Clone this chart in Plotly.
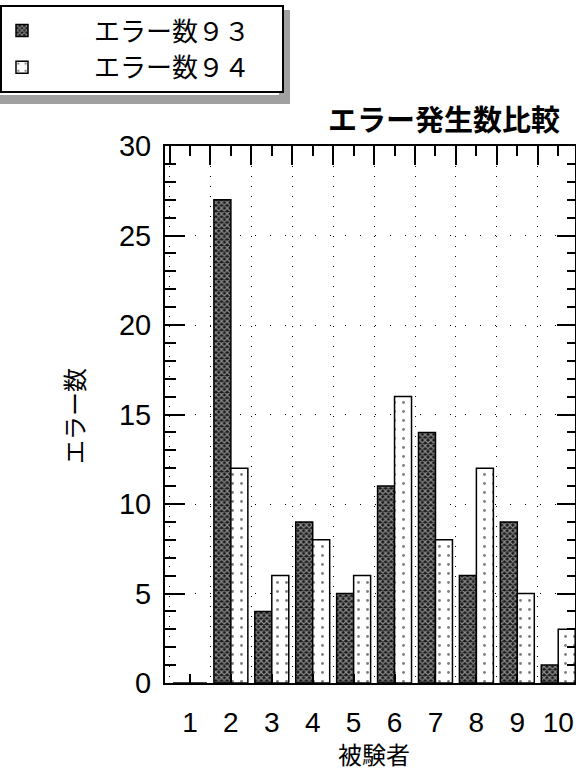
import plotly.graph_objects as go

subjects = [1, 2, 3, 4, 5, 6, 7, 8, 9, 10]
errors_93 = [0, 27, 4, 9, 5, 11, 14, 6, 9, 1]
errors_94 = [0, 12, 6, 8, 6, 16, 8, 12, 5, 3]
series_names = ["エラー数９３", "エラー数９４"]
title_text = "エラー発生数比較"
x_title = "被験者"
y_title = "エラー数"

W, H = 576, 775
L, R, T, B = 165, 1, 146, 92
pw = W - L - R
ph = H - T - B

def px(x):
    return (x - L) / pw

def py(y):
    return (H - B - y) / ph

CJK = "Noto Sans CJK JP"
SANS = "Liberation Sans, Arial, sans-serif"

fig = go.Figure()
fig.add_trace(go.Bar(
    x=subjects, y=errors_93, name="　　" + series_names[0] + "　",
    marker=dict(color="#1a1a1a", line=dict(color="black", width=1.5),
                pattern=dict(shape="x", fgcolor="white", bgcolor="#1a1a1a", size=4, solidity=0.5)),
))
fig.add_trace(go.Bar(
    x=subjects, y=errors_94, name="　　" + series_names[1] + "　",
    marker=dict(color="white", line=dict(color="black", width=1.5),
                pattern=dict(shape=".", fgcolor="black", bgcolor="white", size=9, solidity=0.08)),
))

# invisible trace for top/right axes
fig.add_trace(go.Scatter(x=[subjects[0]], y=[0], xaxis="x2", yaxis="y2",
                         mode="markers", marker=dict(opacity=0), showlegend=False, hoverinfo="skip"))

xr = [0.39, 10.41]
fig.update_layout(
    width=W, height=H,
    margin=dict(l=L, r=R, t=T, b=B, pad=0, autoexpand=False),
    paper_bgcolor="white", plot_bgcolor="white",
    barmode="group", bargap=0.17, bargroupgap=0,
    font=dict(family=SANS, color="black"),
    showlegend=True,
    legend=dict(
        xref="container", yref="container", x=0.0, y=1 - 5 / H,
        xanchor="left", yanchor="top",
        bgcolor="white", bordercolor="black", borderwidth=2,
        font=dict(family=CJK, size=26, color="black"),
        itemwidth=30,
    ),
    xaxis=dict(
        range=xr, tickmode="array", tickvals=subjects, ticktext=[str(s) for s in subjects],
        ticks="inside", ticklen=9, tickwidth=2, tickcolor="black",
        showline=True, linecolor="black", linewidth=2,
        tickfont=dict(family=SANS, size=28), ticklabelstandoff=13,
        showgrid=False, zeroline=False, automargin=False,
        minor=dict(tickmode="linear", tick0=0.5, dtick=1, ticks="", showgrid=True,
                   gridcolor="black", gridwidth=1, griddash="1px,9px"),
    ),
    xaxis2=dict(
        range=xr, overlaying="x", side="top",
        tickmode="array", tickvals=subjects, showticklabels=False,
        ticks="inside", ticklen=10, tickwidth=2, tickcolor="black",
        showline=True, linecolor="black", linewidth=2, showgrid=False, zeroline=False,
        automargin=False,
        minor=dict(tickmode="linear", tick0=0.5, dtick=1, ticks="inside", ticklen=19,
                   tickwidth=2, tickcolor="black", showgrid=False),
    ),
    yaxis=dict(
        range=[0, 30], tickmode="linear", tick0=0, dtick=5,
        ticks="inside", ticklen=20, tickwidth=2, tickcolor="black",
        showline=True, linecolor="black", linewidth=2,
        tickfont=dict(family=SANS, size=29), ticklabelstandoff=6,
        showgrid=True, gridcolor="black", gridwidth=1, griddash="1px,14px",
        zeroline=False, automargin=False,
        minor=dict(tickmode="linear", tick0=0, dtick=1, ticks="inside", ticklen=11,
                   tickwidth=2, tickcolor="black", showgrid=False),
    ),
    yaxis2=dict(
        range=[0, 30], overlaying="y", side="right", showticklabels=False,
        tickmode="linear", tick0=0, dtick=5,
        ticks="inside", ticklen=18, tickwidth=2, tickcolor="black",
        showline=True, linecolor="black", linewidth=2, showgrid=False, zeroline=False,
        automargin=False,
        minor=dict(tickmode="linear", tick0=0, dtick=1, ticks="inside", ticklen=8,
                   tickwidth=2, tickcolor="black", showgrid=False),
    ),
    shapes=[
        dict(type="rect", xref="paper", yref="paper",
             x0=px(279), x1=px(290), y0=py(10), y1=py(104),
             fillcolor="#a0a0a0", line=dict(width=0), layer="above"),
        dict(type="rect", xref="paper", yref="paper",
             x0=px(0), x1=px(290), y0=py(95), y1=py(104),
             fillcolor="#a0a0a0", line=dict(width=0), layer="above"),
    ],
    annotations=[
        dict(text=title_text, xref="paper", yref="paper", x=px(444), y=py(118),
             xanchor="center", yanchor="middle", showarrow=False,
             font=dict(family=CJK, size=29, color="black", weight="bold")),
        dict(text=x_title, xref="paper", yref="paper", x=px(374), y=py(753),
             xanchor="center", yanchor="middle", showarrow=False,
             font=dict(family=CJK, size=24, color="black")),
        dict(text=y_title, xref="paper", yref="paper", x=px(73), y=py(416),
             xanchor="center", yanchor="middle", showarrow=False, textangle=-90,
             font=dict(family=CJK, size=24, color="black")),
    ],
)

fig.write_html("out.html", config={"displayModeBar": False},
               post_script="document.body.style.margin='0px';")
